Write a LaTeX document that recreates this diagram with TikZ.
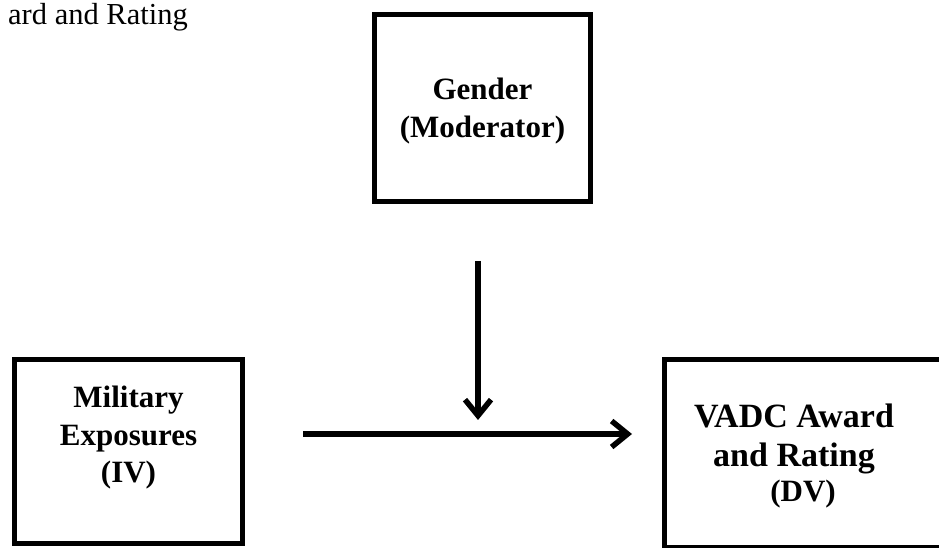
\documentclass[tikz,border=0pt]{standalone}
\usepackage{fontspec}
\setmainfont{Liberation Serif}
\usetikzlibrary{arrows.meta, positioning}

\tikzset{
  varbox/.style={draw, line width=5pt, inner sep=0pt},
  vartext/.style={font=\fontsize{31}{37.5}\selectfont\bfseries, align=center, inner sep=0pt},
  linkarrow/.style={line width=5.5pt, -{Straight Barb[length=16pt,width=26pt]}}
}

\begin{document}
\begin{tikzpicture}[x=1pt, y=1pt]
  \clip (0,0) rectangle (939,548);
  % title, cut off at the left edge
  \node[anchor=base west, font=\fontsize{30.5}{36}\selectfont, inner sep=0pt] (title) at (8,523) {ard and Rating};
  % moderator
  \node[varbox, minimum width=216pt, minimum height=187pt] (modbox) at (482.5,440) {};
  \node[vartext] (mod) at (482.5,437) {Gender\\(Moderator)};
  % independent variable
  \node[varbox, minimum width=228pt, minimum height=184pt] (ivbox) at (128.5,96.5) {};
  \node[vartext] (iv) at (128.5,110) {Military\\Exposures\\(IV)};
  % dependent variable
  \node[varbox, minimum width=335.5pt, minimum height=188.5pt] (dvbox) at (832.25,94.25) {};
  \node[vartext, anchor=base] (dv) at (794,120) {\fontsize{34}{39}\selectfont VADC Award};
  \node[vartext, anchor=base] (dv2) at (794,81) {\fontsize{34}{39}\selectfont and Rating};
  \node[vartext, anchor=base] (dv3) at (803,46) {(DV)};
  % arrows
  \coordinate (ivout) at (303,114);
  \coordinate (dvin) at (632,114);
  \coordinate (modout) at (478,287);
  \coordinate (modin) at (478,128);
  \draw[linkarrow] (ivout) -- (dvin);
  \draw[linkarrow] (modout) -- (modin);
\end{tikzpicture}
\end{document}
